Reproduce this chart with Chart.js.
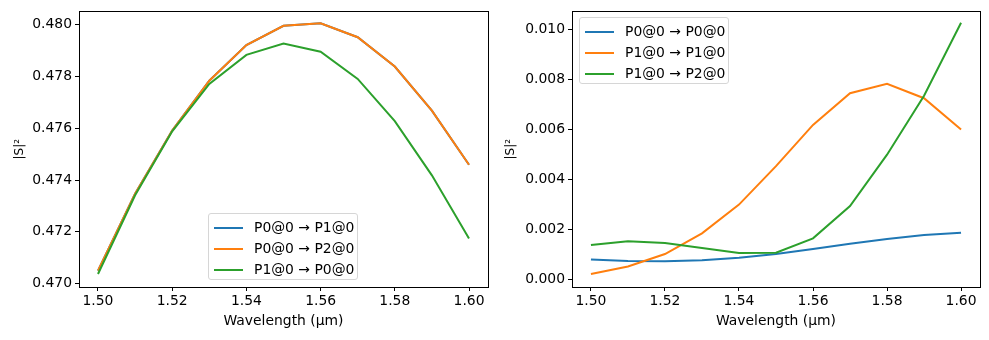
<!DOCTYPE html>
<html>
<head>
<meta charset="utf-8">
<script src="https://cdn.jsdelivr.net/npm/chart.js@4"></script>
<style>
  body { margin: 0; background: #fff; width: 989px; height: 340px; position: relative; overflow: hidden; }
  .box { position: absolute; top: 0; height: 340px; }
  .legend { position: absolute; background: rgba(255,255,255,0.8); border: 1px solid #d6d6d6; border-radius: 3px;
            font: 13.9px "DejaVu Sans", sans-serif; color: #000; padding: 3px 8px 3px 4px; box-sizing: border-box; }
  .legend div { height: 21px; line-height: 21px; white-space: nowrap; }
  .legend span { display: inline-block; width: 29px; height: 2px; vertical-align: middle; margin-right: 11px; margin-left: 1px; }
</style>
</head>
<body>
<div class="box" style="left:0;width:494px"><canvas id="chartLeft"></canvas></div>
<div class="box" style="left:494px;width:495px"><canvas id="chartRight"></canvas></div>
<div class="legend" id="legLeft" style="left:208px;top:213px;width:150px;height:67px"></div>
<div class="legend" id="legRight" style="left:579px;top:17px;width:150px;height:67px"></div>
<script>
// wavelength (µm)
const wavelength = [1.50, 1.51, 1.52, 1.53, 1.54, 1.55, 1.56, 1.57, 1.58, 1.59, 1.60];
const xTicks = [1.50, 1.52, 1.54, 1.56, 1.58, 1.60];

// left plot
const leftLabels = ['P0@0 → P1@0', 'P0@0 → P2@0', 'P1@0 → P0@0'];
const sP0P1 = [0.47050, 0.47347, 0.47591, 0.47783, 0.47921, 0.47995, 0.48005, 0.47951, 0.47838, 0.47668, 0.47459];
const sP0P2 = [0.47050, 0.47347, 0.47591, 0.47783, 0.47921, 0.47995, 0.48005, 0.47951, 0.47838, 0.47668, 0.47459];
const sP1P0 = [0.47037, 0.47341, 0.47588, 0.47771, 0.47883, 0.47927, 0.47895, 0.47790, 0.47627, 0.47418, 0.47174];
const leftYTicks = [0.470, 0.472, 0.474, 0.476, 0.478, 0.480];

// right plot
const rightLabels = ['P0@0 → P0@0', 'P1@0 → P1@0', 'P1@0 → P2@0'];
const sP0P0 = [0.00079, 0.00073, 0.00072, 0.00076, 0.00086, 0.00101, 0.00121, 0.00142, 0.00161, 0.00177, 0.00186];
const sP1P1 = [0.00021, 0.00051, 0.00101, 0.00184, 0.00299, 0.00453, 0.00618, 0.00745, 0.00783, 0.00725, 0.00600];
const sP1P2 = [0.00137, 0.00152, 0.00145, 0.00125, 0.00105, 0.00106, 0.00164, 0.00293, 0.00499, 0.00735, 0.01027];
const rightYTicks = [0.000, 0.002, 0.004, 0.006, 0.008, 0.010];

const colors = ['#1f77b4', '#ff7f0e', '#2ca02c'];
const font = { family: 'DejaVu Sans', size: 13.9 };

// draws the black box around the plot area
const frame = {
    id: 'frame',
    afterDraw(chart) {
        const a = chart.chartArea, ctx = chart.ctx;
        ctx.save();
        ctx.strokeStyle = '#000';
        ctx.lineWidth = 1;
        ctx.strokeRect(Math.round(a.left) + 0.5, Math.round(a.top) + 0.5, Math.round(a.right - a.left), Math.round(a.bottom - a.top));
        ctx.restore();
    }
};

function makeChart(id, labels, series, yTicks, yMin, yMax, cfg) {
    const datasets = series.map((s, i) => ({
        label: labels[i],
        data: wavelength.map((w, j) => ({ x: w, y: s[j] })),
        borderColor: colors[i],
        borderWidth: 2,
        pointRadius: 0,
        tension: 0,
        fill: false,
        order: series.length - i  // later series on top, like matplotlib
    }));
    return new Chart(document.getElementById(id), {
        type: 'line',
        data: { datasets },
        plugins: [frame],
        options: {
            responsive: true,
            maintainAspectRatio: false,
            animation: false,
            layout: { padding: { left: 0, right: cfg.padRight, top: 10, bottom: 0 } },
            plugins: { legend: { display: false }, tooltip: { enabled: false } },
            scales: {
                x: {
                    type: 'linear', min: 1.49488, max: 1.60512,
                    afterFit: s => { s.height = 53; },
                    afterBuildTicks: s => { s.ticks = xTicks.map(v => ({ value: v })); },
                    grid: { drawOnChartArea: false, drawTicks: true, tickLength: 4, color: '#000' },
                    border: { display: false },
                    ticks: { color: '#000', font, padding: 2, maxRotation: 0, callback: v => v.toFixed(2) },
                    title: { display: true, text: 'Wavelength (µm)', color: '#000', font, padding: { top: 0, bottom: 10 } }
                },
                y: {
                    type: 'linear', min: yMin, max: yMax,
                    afterFit: s => { s.width = cfg.yWidth; },
                    afterBuildTicks: s => { s.ticks = yTicks.map(v => ({ value: v })); },
                    grid: { drawOnChartArea: false, drawTicks: true, tickLength: 4, color: '#000' },
                    border: { display: false },
                    ticks: { color: '#000', font, padding: 3, callback: v => v.toFixed(3) },
                    title: { display: true, text: '|S|²', color: '#000', font: { family: 'DejaVu Sans', size: 12 }, padding: { top: cfg.titleTop, bottom: 0 } }
                }
            }
        }
    });
}

makeChart('chartLeft', leftLabels, [sP0P1, sP0P2, sP1P0], leftYTicks, 0.46987, 0.48051,
    { padRight: 6, yWidth: 79, titleTop: 13 });
makeChart('chartRight', rightLabels, [sP0P0, sP1P1, sP1P2], rightYTicks, -0.00031, 0.01073,
    { padRight: 9, yWidth: 78, titleTop: 10 });

function fillLegend(id, labels) {
    document.getElementById(id).innerHTML = labels.map((l, i) =>
        `<div><span style="background:${colors[i]}"></span>${l}</div>`).join('');
}
fillLegend('legLeft', leftLabels);
fillLegend('legRight', rightLabels);
</script>
</body>
</html>
